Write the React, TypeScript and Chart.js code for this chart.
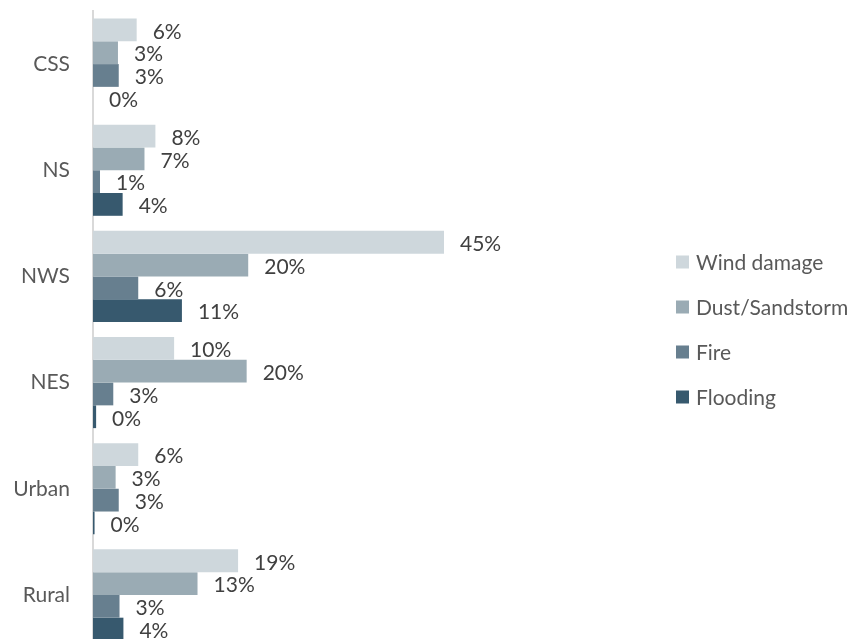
import React, { useEffect, useRef } from "react";
import { Chart, registerables } from "chart.js";

Chart.register(...registerables);

// Regions and hazard shares (percent of respondents)
const regions = ["CSS", "NS", "NWS", "NES", "Urban", "Rural"];
const hazards = ["Wind damage", "Dust/Sandstorm", "Fire", "Flooding"];
const windDamage = [5.6, 8.0, 45.0, 10.4, 5.8, 18.6];
const dustSandstorm = [3.2, 6.6, 19.9, 19.7, 2.9, 13.4];
const fire = [3.3, 0.9, 5.8, 2.6, 3.3, 3.4];
const flooding = [0, 3.8, 11.4, 0.4, 0.2, 3.9];
const hazardColors = ["#CED7DC", "#9AABB4", "#677F8F", "#37596E"];

const FONT = "Lato, 'Open Sans', sans-serif";

// Percentage labels at the end of every bar
const barLabels = {
  id: "barLabels",
  afterDatasetsDraw(chart: any) {
    const ctx = chart.ctx;
    ctx.save();
    ctx.font = `21px ${FONT}`;
    ctx.fillStyle = "#404040";
    ctx.textAlign = "left";
    ctx.textBaseline = "middle";
    chart.data.datasets.forEach((ds: any, di: number) => {
      const meta = chart.getDatasetMeta(di);
      meta.data.forEach((bar: any, i: number) => {
        const v = ds.data[i] as number;
        ctx.fillText(`${Math.round(v)}%`, bar.x + 16, bar.y + 2);
      });
    });
    ctx.restore();
  },
};

// Vertical legend to the right of the plot
const sideLegend = {
  id: "sideLegend",
  afterDraw(chart: any) {
    const ctx = chart.ctx;
    const area = chart.chartArea;
    const cy = (area.top + area.bottom) / 2;
    const n = chart.data.datasets.length;
    ctx.save();
    ctx.font = `21px ${FONT}`;
    ctx.textAlign = "left";
    ctx.textBaseline = "middle";
    chart.data.datasets.forEach((ds: any, i: number) => {
      const y = cy + (i - (n - 1) / 2) * 45;
      ctx.fillStyle = ds.backgroundColor;
      ctx.fillRect(676, y - 6.5, 13, 13);
      ctx.fillStyle = "#595959";
      ctx.fillText(ds.label, 696, y + 1);
    });
    ctx.restore();
  },
};

export default function App() {
  const canvasRef = useRef<HTMLCanvasElement | null>(null);

  useEffect(() => {
    if (!canvasRef.current) return;
    const series = [windDamage, dustSandstorm, fire, flooding];
    const chart = new Chart(canvasRef.current, {
      type: "bar",
      data: {
        labels: regions,
        datasets: hazards.map((name, i) => ({
          label: name,
          data: series[i],
          backgroundColor: hazardColors[i],
          borderWidth: 0,
          categoryPercentage: 0.858,
          barPercentage: 1.0,
        })),
      },
      options: {
        indexAxis: "y",
        animation: false,
        responsive: false,
        layout: { padding: { top: 11, right: 296, bottom: 12, left: 0 } },
        plugins: {
          legend: { display: false },
          tooltip: { enabled: false },
        },
        scales: {
          x: {
            display: false,
            min: 0,
            max: 60,
          },
          y: {
            afterFit: (scale: any) => {
              scale.width = 93;
              scale.paddingTop = 0;
              scale.paddingBottom = 0;
            },
            grid: { display: false, drawTicks: false },
            border: { display: true, color: "#D9D9D9", width: 2 },
            ticks: {
              padding: 23,
              color: "#595959",
              font: { family: FONT, size: 21 },
            },
          },
        },
      },
      plugins: [barLabels, sideLegend],
    });
    return () => chart.destroy();
  }, []);

  return (
    <div
      style={{
        position: "fixed",
        left: 0,
        top: 0,
        width: 857,
        height: 639,
        overflow: "hidden",
        background: "#ffffff",
      }}
    >
      <canvas ref={canvasRef} width={857} height={660} style={{ display: "block" }} />
    </div>
  );
}
